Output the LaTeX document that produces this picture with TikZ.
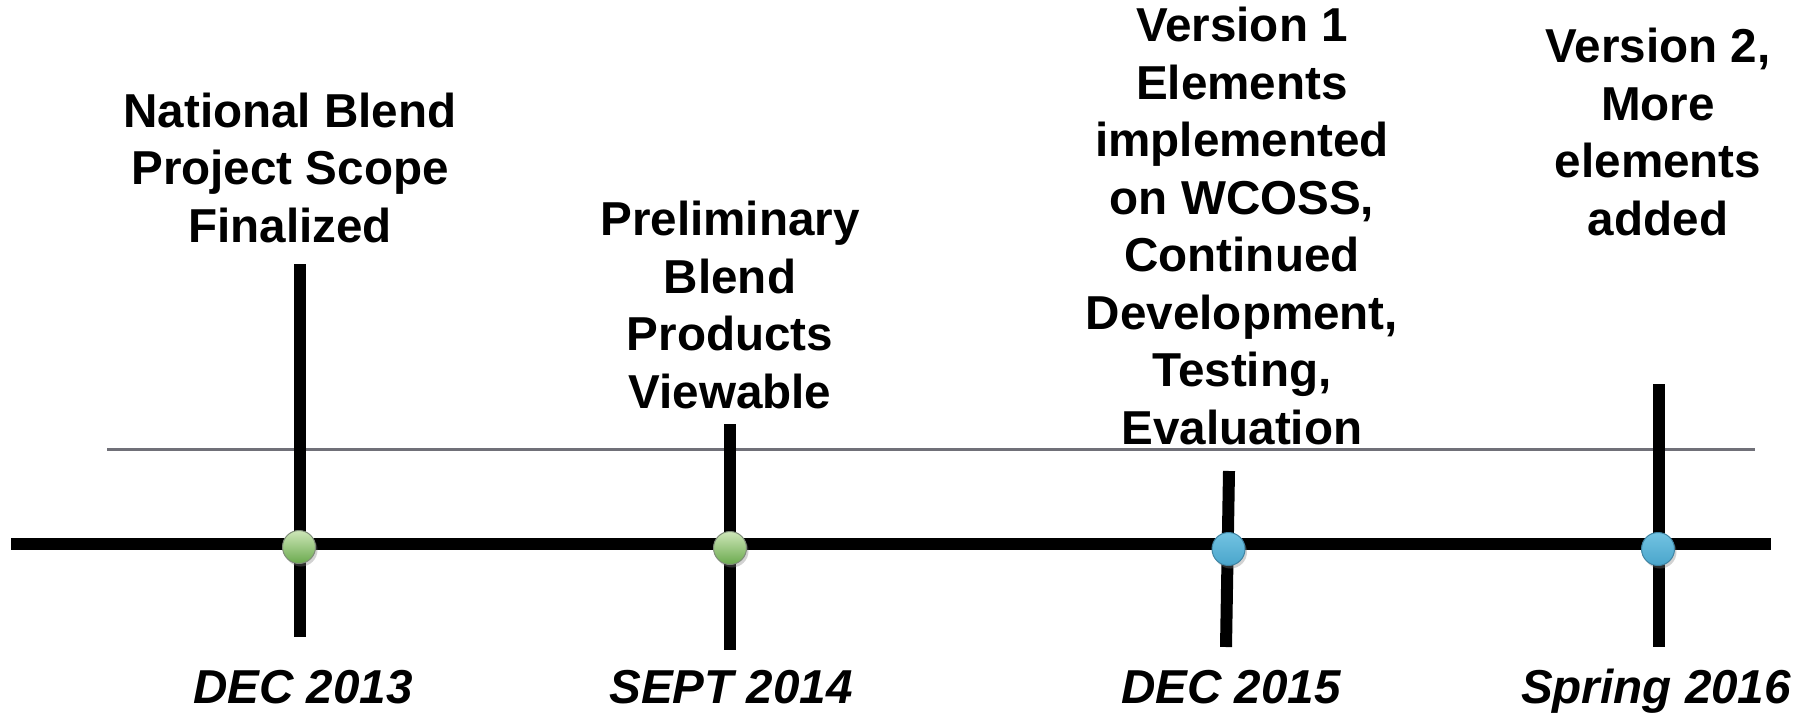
\documentclass[tikz,border=0pt]{standalone}
\usepackage{fontspec}
\setmainfont{Liberation Sans}
\usetikzlibrary{shadows}
\definecolor{greentop}{HTML}{CDE6B8}
\definecolor{greenbot}{HTML}{6BAA4E}
\definecolor{greenrim}{HTML}{7E8C78}
\definecolor{bluetop}{HTML}{72C3E2}
\definecolor{bluebot}{HTML}{4AA5CB}
\definecolor{bluerim}{HTML}{3F84A3}
\definecolor{grayline}{HTML}{707078}
\begin{document}
\begin{tikzpicture}[x=1pt,y=-1pt,
  eventtext/.style={font=\bfseries\fontsize{47.6}{57.5}\selectfont, align=center, inner sep=0pt, anchor=south},
  datetext/.style={font=\bfseries\itshape\fontsize{47.6}{57.5}\selectfont, inner sep=0pt, anchor=base},
  ticklinestyle/.style={line width=12pt, line cap=butt, black},
  mainlinestyle/.style={line width=12pt, line cap=butt, black},
  graylinestyle/.style={line width=3pt, grayline},
  dotbase/.style={circle, minimum size=33pt, inner sep=0pt, line width=1pt,
     drop shadow={shadow xshift=2pt, shadow yshift=-3pt, opacity=0.35}},
  greendot/.style={dotbase, top color=greentop, bottom color=greenbot, draw=greenrim},
  bluedot/.style={dotbase, top color=bluetop, bottom color=bluebot, draw=bluerim}]
\useasboundingbox[fill=white] (0,0) rectangle (1812,717);

% coordinates
\coordinate (gL) at (107,449);
\coordinate (gR) at (1755,449);
\coordinate (mL) at (11,544);
\coordinate (mR) at (1771,544);
\coordinate (t1top) at (300,264);
\coordinate (t1bot) at (300,637);
\coordinate (t2top) at (730,424);
\coordinate (t2bot) at (730,650);
\coordinate (t3top) at (1229,471);
\coordinate (t3bot) at (1226,647);
\coordinate (t4top) at (1659,384);
\coordinate (t4bot) at (1659,647);

% thin gray line
\draw[graylinestyle] (gL) -- (gR);

% ticks
\draw[ticklinestyle] (t1top) -- (t1bot);
\draw[ticklinestyle] (t2top) -- (t2bot);
\draw[ticklinestyle] (t3top) -- (t3bot);
\draw[ticklinestyle] (t4top) -- (t4bot);

% main line
\draw[mainlinestyle] (mL) -- (mR);

% dots
\node[greendot] (d1) at (299,547) {};
\node[greendot] (d2) at (730,548) {};
\node[bluedot] (d3) at (1228.5,549) {};
\node[bluedot] (d4) at (1658,549) {};

% event texts
\node[eventtext] (e1) at (290,243) {National Blend\\Project Scope\\Finalized};
\node[eventtext] (e2) at (730,409) {Preliminary\\Blend\\Products\\Viewable};
\node[eventtext] (e3) at (1242,445) {Version 1\\Elements\\implemented\\on WCOSS,\\Continued\\Development,\\Testing,\\Evaluation};
\node[eventtext] (e4) at (1658,236) {Version 2,\\More\\elements\\added};

% dates
\node[datetext] (y1) at (303,703) {DEC 2013};
\node[datetext] (y2) at (731,703) {SEPT 2014};
\node[datetext] (y3) at (1231,703) {DEC 2015};
\node[datetext] (y4) at (1656,703) {Spring 2016};
\end{tikzpicture}
\end{document}
